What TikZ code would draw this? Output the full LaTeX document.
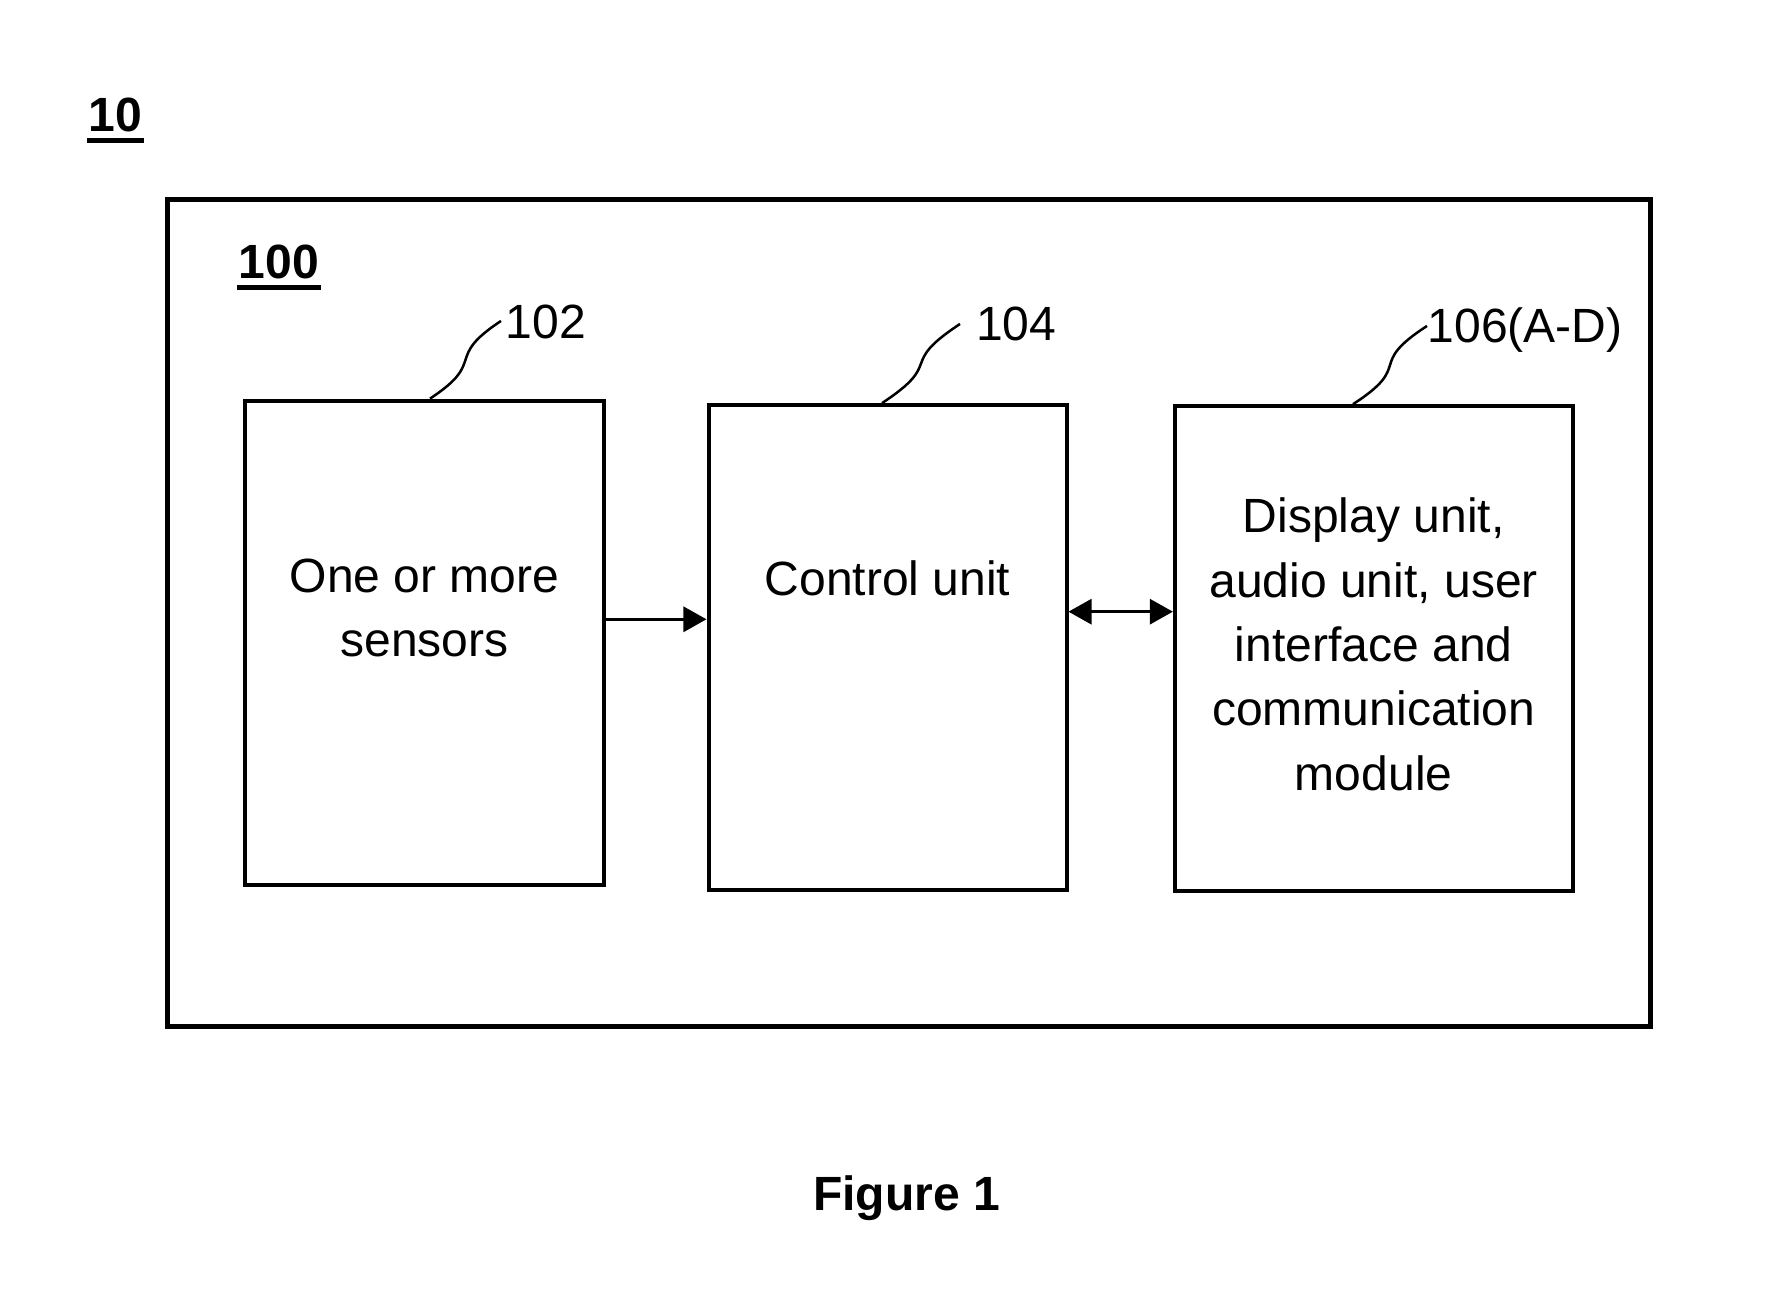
\documentclass[tikz,border=0pt]{standalone}
\usepackage{fontspec}
\setmainfont{Liberation Sans}
\usetikzlibrary{arrows.meta, positioning}
\tikzset{
	outerbox/.style={draw, shape=rectangle, line width=0.05cm, inner sep=0pt},
	unitbox/.style={draw, shape=rectangle, line width=0.04cm, inner sep=0pt, minimum width=3.578cm, minimum height=4.845cm},
	unittext/.style={align=center, inner sep=0pt, font=\fontsize{13.66pt}{18.3pt}\selectfont},
	refnum/.style={inner sep=0pt, text height=0.34cm, text depth=0pt, font=\fontsize{13.66pt}{16pt}\selectfont},
	figref/.style={inner xsep=0.01cm, inner ysep=0.08cm, text depth=0pt, font=\fontsize{13.66pt}{16pt}\selectfont\bfseries},
	leader/.style={line width=0.025cm},
	underbar/.style={line width=0.05cm},
	flow/.style={line width=0.03cm, -{Triangle[length=0.23cm, width=0.25cm]}},
	bothflow/.style={line width=0.03cm, {Triangle[length=0.23cm, width=0.25cm]}-{Triangle[length=0.23cm, width=0.25cm]}}
}

\begin{document}
\begin{tikzpicture}[x=0.01cm, y=-0.01cm]
	\useasboundingbox (0,0) rectangle (1775,1301);
	
	% Boxes
	\node (sys) [outerbox, minimum width=14.825cm, minimum height=8.263cm] at (909.2, 613.4) {};
	\node (sens) [unitbox] at (424.5, 643) {};
	\node (ctrl) [unitbox] at (887.5, 647.5) {};
	\node (disp) [unitbox, minimum width=3.974cm] at (1373.7, 648.6) {};
	
	% Box texts
	\node (senstext) [unittext, below=1.594cm of sens.north] {One or more\\sensors};
	\node (ctrltext) [unittext, below=1.57cm of ctrl.north] {Control unit};
	\node (disptext) [unittext, below=0.93cm of disp.north] {Display unit,\\audio unit, user\\interface and\\communication\\module};
	
	% Reference numerals
	\node (l10) [figref, anchor=base] at (115.5, 131.7) {10};
	\node (l100) [figref, anchor=base] at (279, 279) {100};
	\node (l102) [refnum, anchor=west] at (505, 321) {102};
	\node (l104) [refnum, anchor=west] at (975.5, 324) {104};
	\node (l106) [refnum, anchor=west] at (1427, 326) {106(A-D)};
	\node (fig) [figref, anchor=base] at (906.5, 1210.7) {Figure 1};
	
	\draw [underbar] (l10.south west) -- (l10.south east);
	\draw [underbar] (l100.south west) -- (l100.south east);
	
	% Leader lines
	\draw [leader] ([xshift=0.055cm]sens.north) .. controls +(58,-38) and +(-58,38) .. ([xshift=-0.04cm]l102.west);
	\draw [leader] ([xshift=-0.055cm]ctrl.north) .. controls +(64,-42) and +(-64,42) .. ([xshift=-0.155cm]l104.west);
	\draw [leader] ([xshift=-0.207cm]disp.north) .. controls +(62,-40) and +(-62,40) .. (l106.west);
	
	% Arrows
	\coordinate (flowa) at (0, 619.3);
	\coordinate (flowb) at (0, 611.7);
	\draw [flow] (sens.east |- flowa) -- (ctrl.west |- flowa);
	\draw [bothflow] (ctrl.east |- flowb) -- (disp.west |- flowb);
	
\end{tikzpicture}
\end{document}
